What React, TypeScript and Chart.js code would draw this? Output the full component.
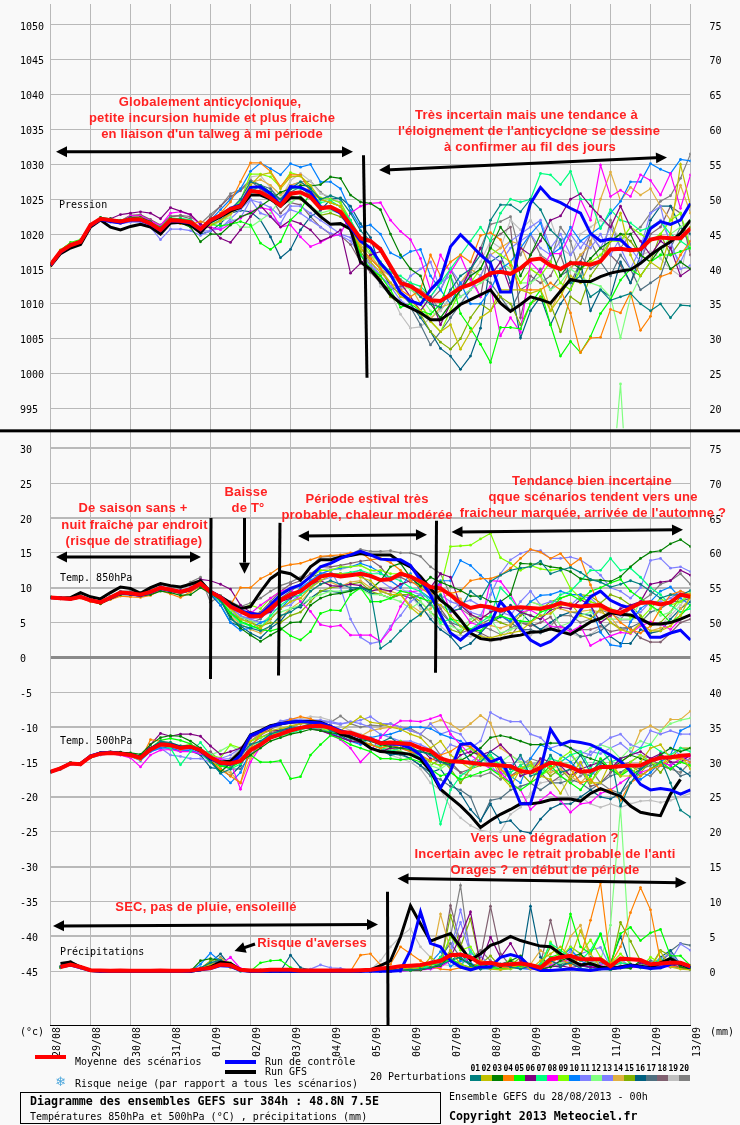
import React, { useEffect, useRef } from "react";
import { Chart, registerables } from "chart.js";

Chart.register(...registerables);

const dateLabels = ["28/08","29/08","30/08","31/08","01/09","02/09","03/09","04/09","05/09","06/09","07/09","08/09","09/09","10/09","11/09","12/09","13/09"];
const pressureTicks = [995,1000,1005,1010,1015,1020,1025,1030,1035,1040,1045,1050];
const pressureRightTicks = [20,25,30,35,40,45,50,55,60,65,70,75];
const tempTicks = [-45,-40,-35,-30,-25,-20,-15,-10,-5,0,5,10,15,20,25,30];
const tempRightTicks = [0,5,10,15,20,25,30,35,40,45,50,55,60,65,70,75];
const perturbationNames = ["01","02","03","04","05","06","07","08","09","10","11","12","13","14","15","16","17","18","19","20"];
const perturbationColors = ["#008080","#c0c000","#008000","#ff8000","#00ff00","#800080","#00ff80","#ff00ff","#80ff00","#0080ff","#8080ff","#80ff80","#8080ff","#e0b040","#80b000","#006080","#507080","#806070","#c0c0c0","#808080"];

const pressureMean = [1015.6,1017.5,1018.4,1018.9,1021.3,1022.2,1022,1021.8,1022.1,1022.1,1021.5,1020.6,1022,1021.9,1021.7,1020.7,1022,1022.7,1023.6,1024,1026.2,1026,1025.2,1024.1,1025.8,1026,1025.3,1023.7,1023.9,1023.2,1021.3,1019.4,1019,1017.8,1015.4,1013,1012.5,1011.6,1010.5,1010.4,1011.3,1012.3,1012.8,1013.5,1014.4,1014.6,1014.3,1015.1,1016.3,1016.5,1015.5,1015,1015.8,1015.8,1015.6,1016.1,1017.8,1017.9,1017.7,1017.8,1019.2,1019.5,1019.4,1019.4,1020.8];
const pressureControl = [1015.5,1017.4,1018.4,1018.9,1021.2,1022.1,1021.8,1021.6,1022,1022,1021.4,1020.5,1021.9,1021.8,1021.6,1020.6,1021.9,1022.7,1023.7,1024.2,1026.7,1026.8,1025.8,1024.2,1026.8,1026.7,1026,1023.9,1023.8,1023,1021,1019,1018,1015.8,1014.2,1011.6,1010.4,1009.9,1012,1013.5,1018.2,1019.9,1018.5,1017,1015.8,1011.7,1011.7,1019.4,1024.4,1026.7,1025.1,1024.5,1023.7,1023,1020.1,1019,1019.3,1019.2,1017.8,1017.8,1020.8,1021.8,1021.4,1022,1024.4];
const pressureGfs = [1015.4,1017.2,1018,1018.5,1021,1022,1021,1020.6,1021.1,1021.4,1021,1020,1021.6,1021.7,1021.3,1020.2,1021.8,1022.5,1023.3,1023.8,1025.6,1025.6,1025,1024,1025.2,1025.2,1023.9,1022.5,1021.4,1021.5,1020.7,1016,1014.9,1013.2,1011.3,1010.1,1009.4,1008.7,1007.7,1007.7,1008.7,1009.9,1010.6,1011.3,1012,1010.1,1008.9,1009.9,1011,1010.6,1010.1,1011.8,1013.5,1013.2,1013.2,1013.9,1014.4,1014.7,1014.9,1015.8,1017,1018,1018.9,1020.1,1022];
const pressurePerturbations = [
[1015.7,1017.5,1018.6,1019,1021.4,1022.3,1022.1,1021.9,1022.3,1022.2,1021.7,1020.9,1022.2,1022.1,1021.8,1020.5,1021.8,1022.4,1023.5,1025,1027.5,1027,1026,1025,1026.5,1027.5,1026.5,1025,1025.5,1025,1023,1020.5,1019,1018,1015,1013,1012.5,1011,1010,1009.5,1012,1014,1015,1017,1022,1024.2,1024.2,1023.2,1025,1023.5,1020.6,1019.2,1013,1014,1011,1012,1010.5,1011,1011.5,1010,1009,1010,1008,1009.8,1009.7],
[1015.5,1017.7,1018.7,1019.1,1021.2,1022.1,1021.9,1021.6,1022.2,1022.3,1021.5,1020.8,1021.8,1021.9,1021.6,1020.6,1021.3,1021.9,1023,1024.5,1027,1028.5,1028.8,1026.5,1028.2,1028.3,1027,1025,1024.5,1024,1021,1018,1016,1014.5,1013,1011,1010.5,1009,1007.5,1006,1007,1003.5,1006,1008,1009,1012,1012,1012,1011.5,1012,1009,1011,1014,1013,1016,1016,1019,1023,1017,1014,1016,1015,1020,1030,1024],
[1015.7,1017.4,1018.5,1019,1021.4,1022.4,1022.2,1021.9,1022.4,1022.4,1021.8,1020.6,1021.8,1021.6,1021,1018.9,1020,1020,1021.3,1022.5,1023,1024,1025,1026,1026.5,1027,1026.9,1027.1,1028.2,1028,1025.6,1024.6,1024.4,1023.5,1020,1017,1015,1014,1010,1008,1010,1012,1014,1015,1018,1021,1019,1014,1017,1020,1018,1014,1016,1015,1016.5,1018,1019,1020,1020,1017,1016,1018,1015,1016,1015],
[1015.4,1017.3,1018.3,1018.8,1021.1,1022,1021.8,1021.6,1022,1022,1021.4,1020.4,1021.6,1021.5,1021.4,1021.8,1021.5,1023,1024.6,1027.5,1030.2,1030.2,1029,1026.8,1028.5,1028.5,1026,1025,1024.5,1024,1021,1018,1016.5,1015,1013,1012,1011,1012,1017,1014,1016,1017,1016,1019.8,1020.2,1019.2,1015.5,1012,1012,1012,1013,1012,1008.7,1003,1005.1,1005.2,1009.2,1008.7,1011.6,1006.2,1008.2,1013.9,1014.4,1017,1019],
[1015.8,1017.7,1018.8,1019.2,1021.3,1022.3,1022.1,1021.8,1022.1,1022.2,1021.6,1021,1022.3,1022.2,1021.9,1020.8,1021.4,1021.2,1021.4,1021.8,1021.3,1018.7,1017.8,1018.9,1022,1023.4,1026,1025,1024.5,1024,1021.5,1017,1015,1014,1012,1009.5,1010,1009,1008.5,1010,1014,1008.6,1006.5,1004.2,1001.6,1006.6,1006.6,1006.4,1010,1012,1007,1002.5,1004.6,1003,1005.3,1008.6,1010.6,1013.4,1015,1014,1016,1017,1017,1017.5,1018],
[1015.6,1017.5,1018.5,1019,1021.3,1022.2,1022.2,1022.8,1023,1023.2,1023,1022.2,1023.8,1023.3,1022.8,1021.4,1020.9,1019.4,1018.8,1020.6,1022.5,1024.1,1022.5,1021,1022,1021.5,1020.6,1019,1019.6,1020.6,1014.4,1015.8,1017,1017.5,1015,1013,1011,1009,1011,1007,1010,1012,1015,1018,1014,1016,1012,1018,1017,1019,1022,1022.6,1025,1025.8,1024,1022.5,1021,1024,1021,1019,1017,1019,1018,1014,1015],
[1015.6,1017.5,1018.4,1019,1021.3,1022.2,1022,1022,1022.3,1022.1,1021.7,1020.9,1022.1,1022.3,1022,1020.5,1021.5,1022.4,1023.6,1024.5,1026,1027,1026,1024,1026.5,1026.5,1026,1024.5,1024.8,1023.9,1022,1019.5,1018,1016,1014.5,1014,1013,1012.5,1011,1013,1015,1017,1019,1021,1019,1023,1025,1024.6,1025,1028.7,1028.5,1027.1,1029,1025,1024.9,1020.8,1023.5,1022,1021.6,1020.5,1021,1021.8,1020,1019,1018],
[1015.6,1017.4,1018.4,1018.9,1021.3,1022.1,1021.9,1021.7,1022.6,1022.6,1021.9,1021.2,1023,1023.2,1022.8,1021.2,1021,1020.6,1021.5,1022.3,1023.2,1023.8,1023.5,1021,1021.3,1019.6,1018.2,1018.8,1019.6,1020,1023,1024,1024.4,1024.5,1022,1020.4,1019.2,1016.5,1012,1017,1014.5,1016.8,1013.5,1011,1012.5,1005.4,1008,1005.9,1016,1014.5,1017.2,1017.2,1020,1025,1022,1029.9,1025.4,1026.3,1025.4,1028.5,1027.7,1025.6,1028.7,1023.7,1028.5],
[1015.8,1017.6,1018.6,1019.1,1021.3,1022.3,1022,1021.9,1022.4,1022.5,1021.8,1021,1021.9,1022,1021.8,1020.9,1021.6,1022.6,1023.5,1024.8,1028.6,1028.6,1028.2,1026.7,1028.8,1028.4,1026.6,1025.2,1025,1024.5,1022,1019,1017.5,1015.5,1014,1011.5,1010.5,1010,1007.5,1006,1009,1012,1013,1015,1018,1017,1016,1013,1015,1014,1016,1013,1012,1015,1016,1017,1019,1019,1021,1020,1019,1020,1022,1023,1018],
[1015.5,1017.6,1018.5,1019,1021.2,1022.1,1021.8,1021.6,1022,1022,1021.3,1020.2,1021.7,1021.6,1021.3,1020.1,1022,1023.5,1025,1026.5,1029,1030.2,1029.4,1028.5,1030.1,1029.6,1030,1027.5,1027.5,1026.5,1023.4,1021,1021.3,1020,1017.3,1016.6,1017.5,1017.8,1014,1012,1010,1013,1010,1010,1012,1015,1016,1018,1020,1021.6,1017,1018,1021,1019,1020,1021,1023,1024.7,1027.5,1027.5,1030.1,1029.3,1028.7,1030.7,1030.5],
[1015.7,1017.4,1018.4,1018.9,1021.1,1022,1021.7,1021.5,1021.7,1021.7,1021,1019.2,1020.7,1020.7,1020.5,1019.8,1020.5,1021,1021.8,1022.3,1024.9,1024.5,1023.8,1022.5,1023.5,1023,1022,1021,1020.1,1019.8,1019,1017,1016,1014,1012.5,1012,1014,1015,1016,1012,1015,1013,1014,1015,1018,1017,1019,1020,1021,1022,1018,1020,1017,1019,1018,1020,1017,1019.5,1018,1016,1021,1022,1019,1015,1015.5],
[1015.6,1017.7,1018.7,1019.1,1021.4,1022.3,1022.1,1021.9,1022.3,1022.4,1021.7,1021,1022.3,1022.2,1021.9,1020.9,1021.2,1021.9,1022.4,1021,1021,1022,1023,1025,1024.5,1025.5,1024,1023,1023.4,1023,1021,1019,1017,1016,1014,1013,1012,1011,1009,1008,1010,1011,1012,1013,1014,1016,1015,1013,1013,1014,1012,1013,1015,1014,1013,1012.5,1011,1005.1,1011,1014,1016,1017,1020,1021,1022],
[1015.5,1017.4,1018.4,1019,1021.2,1022,1021.9,1021.6,1022,1022,1021.4,1020.6,1021.5,1021.5,1021.4,1020.4,1020.5,1020.8,1022.2,1023.5,1025,1023,1022.5,1021.5,1024,1024,1023,1022,1021,1020,1019.5,1017,1015.5,1014,1012.5,1010.5,1009.5,1009,1011,1013,1014,1011,1012,1014,1017,1016,1018,1019,1020,1018,1017,1019,1020,1018,1020,1018,1021,1018,1015,1018,1023,1024,1018,1016,1019],
[1015.7,1017.6,1018.6,1019.1,1021.3,1022.2,1022,1021.7,1022.4,1022.3,1021.8,1020.8,1021.6,1021.7,1021.5,1020.5,1021.2,1021.8,1022.8,1024.3,1027.4,1027.8,1027,1025.6,1027,1027.4,1026.5,1024,1023.5,1023,1021,1018.5,1017,1015,1014,1012,1012.5,1010,1007.8,1009.5,1010,1013,1015,1014,1017,1018,1019,1018.5,1015,1014,1009,1012,1015,1017,1018.5,1025,1028.9,1024.8,1026.7,1025.6,1026.5,1024,1022,1027,1023],
[1015.8,1017.7,1018.7,1019,1021.3,1022.2,1022,1021.8,1022.2,1022.2,1021.5,1020.7,1022.2,1022.1,1021.8,1020.7,1021.7,1022.6,1023.4,1024.4,1026.5,1027,1026,1024,1025.5,1025,1024,1022.7,1023,1022.5,1021.2,1017.5,1015.5,1013.5,1011,1010,1009.5,1008.5,1006,1004.5,1003.5,1005,1008,1010,1009,1011,1010,1007,1010,1011,1010,1006,1011,1010,1014,1016,1019,1020,1019,1017,1016,1020,1017,1019,1021],
[1015.6,1017.4,1018.5,1018.9,1021.2,1022.1,1021.9,1021.8,1022.2,1022.3,1021.6,1020.5,1021.9,1021.8,1021.6,1020,1020.4,1021.5,1023,1023.4,1023.2,1022,1019.6,1016.6,1017.8,1020.6,1022.5,1023.4,1025,1025.2,1024,1021.5,1019.5,1015,1012.5,1011.5,1010,1008,1006,1003.6,1002.5,1000.6,1002.5,1006.5,1016,1017,1013,1005.1,1009,1011,1007,1010,1012,1016,1009,1012,1011,1016,1013,1017,1022,1024,1024,1021,1020],
[1015.5,1017.6,1018.4,1018.9,1021.2,1022.2,1021.9,1021.6,1022,1021.9,1021.3,1020.4,1021.8,1021.9,1021.5,1020.8,1021.3,1022,1023.2,1024,1026,1027,1026.5,1024.8,1026,1026.8,1025.5,1024,1023.7,1023,1020.5,1017,1015,1013,1011,1010,1009.5,1007,1004.1,1006,1008,1010,1012,1014,1013,1011,1009,1012,1013,1015,1012,1014,1015,1017,1015,1016,1014,1017,1015,1012,1013,1014,1018,1021,1018.5],
[1015.6,1017.5,1018.5,1019.1,1021.3,1022.2,1022.1,1021.9,1022.7,1022.8,1022.1,1021.3,1022.5,1022.6,1022.2,1020.8,1022.4,1024,1025.4,1026.2,1027.6,1026.5,1025.4,1023,1024.5,1024.2,1022.5,1021,1020,1019.8,1018.5,1016,1014.5,1013,1012,1012.5,1013,1011.5,1010.5,1012,1015,1012,1014,1011,1019,1020,1021,1008,1014,1013,1014,1017,1013,1016,1020,1018,1017,1015.5,1013,1016,1020,1021,1024,1023,1017],
[1015.7,1017.6,1018.6,1019,1021.2,1022.1,1021.9,1021.7,1022.2,1022.1,1021.5,1020.7,1022.1,1022,1021.7,1020.6,1021.6,1022.2,1023.8,1024.6,1028.2,1028.4,1026.6,1025,1027.7,1028.7,1027.6,1025.8,1025.4,1024.4,1022,1018.5,1016,1012.5,1011.5,1008.5,1006.5,1006.7,1008,1009,1011,1012.5,1014,1016,1019,1018,1022,1020.6,1022,1020,1022,1018,1017,1020,1021,1022,1021,1019.5,1019,1017,1017.5,1016.5,1015,1014,1021],
[1015.6,1017.5,1018.5,1019,1021.3,1022.3,1022,1021.8,1022.6,1022.7,1022,1021,1022.6,1022.7,1022.5,1021.5,1022.8,1024,1025.8,1026.4,1027.8,1027,1026,1024.8,1027,1027.5,1027.6,1026,1025,1024.6,1021.5,1018,1016.5,1015,1014,1013.5,1012.5,1012,1011,1009,1011,1013,1014.5,1018,1021.4,1021.8,1022.5,1017,1020,1017,1016,1021,1019,1014,1019,1016,1022,1018,1020,1021,1023,1024.7,1025.5,1028,1031.5]
];

const t850Mean = [8.6,8.5,8.4,8.7,8.2,7.9,8.6,9.3,9.2,9,9.4,10,9.7,9.4,9.8,10.6,9.4,8.6,7.3,6.6,5.9,5.9,7,8.2,9,9.5,10.6,11.6,11.9,11.6,11.8,12,11.7,11.1,11.2,12,11.6,10.9,10.1,9.9,8.95,7.8,7.1,7.4,7.2,6.7,7.1,7.2,7.1,7,7.3,7.8,7.5,7.3,7.4,7.5,6.7,6.4,7.1,7.8,7.9,7.6,7.9,9,8.7];
const t850Control = [8.6,8.5,8.4,8.7,8.2,7.9,8.5,9.2,9.1,8.9,9.3,9.9,9.6,9.4,9.7,10.5,9.5,8.7,7.4,6.7,6.3,6.1,7.5,9,9.9,10.4,11.6,13,13.5,14.2,14.7,15.2,14.7,14.1,14,14,13.2,11.1,8.95,6.1,3.5,2.5,3.7,4.4,4.9,8,6.3,4.2,2.5,1.7,2.3,3.5,4.7,6.8,8.7,9.5,8.2,7.5,7.1,5.1,2.9,2.9,3.5,3.9,2.5];
const t850Gfs = [8.6,8.5,8.6,9.3,8.7,8.4,9.3,10.1,9.9,9.2,10,10.6,10.3,10.1,10.5,11,9.4,8.7,7.8,7,7.3,9.4,11.3,12.3,12,11.1,13,14,14,14.4,14.6,14.9,14.7,14.7,14.7,13.7,13,11.6,9.9,8.2,7.1,5.4,3.5,2.7,2.5,2.7,3,3.2,3.6,3.7,4.1,3.7,3.3,4.2,5.1,5.6,6.4,6.2,6.1,5.5,4.8,4.8,5,5.5,6.1];
const t850Perturbations = [
[8.7,8.6,8.5,8.8,8.3,8,8.7,9.4,9.3,9.1,9.5,10.1,9.8,9.5,9.9,10.5,9.6,8.2,5.5,4.6,4.2,3.8,4.5,6,6.5,7.5,9.5,10.5,11,10.5,10,10,9.5,1.3,2.3,3.8,5.2,6.2,7.8,8.9,6.6,7,9.5,8.4,10.9,11.8,12.5,12.8,13,13.8,12,12.5,12.9,12.2,11.2,10.8,10.1,10.5,11,10.5,9.5,8.5,9,8.9,9.6],
[8.6,8.5,8.4,8.7,8.2,7.9,8.6,9.3,9.2,9,9.3,9.9,9.6,9.3,9.7,10.5,9.3,8.5,7,5.5,5,4.2,5.5,7,8,8.5,10,11,11.8,12,12,11.5,11,9.5,9,9,7.2,6,8,7.5,6,4.5,3.5,3,2.8,3.2,3.5,3.8,5,6,6.3,7.5,7.8,6,5.5,7,5,4,3.5,4.8,3.8,3.8,4.5,6,8.8],
[8.6,8.5,8.5,8.7,8.1,7.7,8.4,9,9,8.8,9,9.5,9.3,8.9,9,10,9.2,8.2,5.8,4.2,3.2,2.3,3.2,4,5,5.1,7.5,8.5,9,9.2,9.5,10,9.7,11,13,13.5,11.5,10.2,11.5,10.8,10.2,9.6,8.8,8.8,8,8,9,13.5,13.4,13.4,13,12.8,12.3,11.3,11.1,11.1,10.9,11.6,13,14.2,15.1,15.3,16.3,16.9,15.9],
[8.6,8.4,8.3,8.5,8,7.7,8.3,8.8,8.7,8.6,8.9,9.6,9.1,8.6,9.4,10.2,9.2,8.4,7.5,10,10,11.3,12,13,13.3,13.5,14,14.5,14.6,14.7,15,15.1,14,14.2,13.6,12.5,11,10,9,9.5,9.2,9.5,11,11.3,11.3,11.8,12.8,14.2,15.5,15.1,14.2,14.9,13.2,14.2,10.4,7,6.5,5,4,3.5,4.5,7,9,9.5,9],
[8.7,8.5,8.5,8.8,8.2,8,8.6,9.3,9.1,9,9.4,9.9,9.7,9.3,9.7,10.4,9.6,8.2,6.4,5.2,4.6,4,3.8,4.2,3.1,2.5,3.7,6.3,6.8,6.7,9,10,8,8,8.5,9.5,9.2,8.5,8,9,5.5,5.2,4,3.8,5.2,6,5.5,5.2,5.1,6.5,7,8.5,9,8.2,9.5,10,10.7,11.2,9.5,8.5,7.5,6.5,5,6,7.5],
[8.6,8.5,8.4,8.7,8.3,8,8.6,9.4,9.3,9,9.5,10.2,9.8,9.6,9.9,11.2,11,10.5,9.8,7.5,6.5,6.2,6.5,8,8.5,9.5,10.5,11,10.3,10.2,10.5,10.3,9.5,9.8,9.5,10.5,11,11.5,10,12,11.5,7.5,6.2,5.5,6.5,7,7.3,6.5,6,5.5,6.8,7.2,7,8.3,7.5,5,6,7,7.5,8,10.5,10.8,11,12.5,11.8],
[8.6,8.5,8.4,8.7,8.2,7.9,8.6,9.3,9.2,9,9.4,10,9.7,9.4,9.7,10.3,9.3,8,6.3,5,4.5,4.2,6,7.5,8.5,9,10,11.5,12,12,12.2,12.5,12,12,11.5,11,10,9.5,8,5,5.5,4.5,4,5,6,10,8.5,6.5,6,5.5,7.5,9,9.5,11,12.5,12.5,14.2,12.5,12.8,11.5,10,9,7.5,6.5,7],
[8.6,8.6,8.5,8.7,8.2,8,8.6,9.3,9.3,9,9.5,10.1,9.8,9.5,10,10.7,9.5,8.2,7.2,6.5,6.3,7.5,8.5,9.5,9.9,8,6.6,4.7,4.4,4.6,3.2,3.2,3.2,2.3,4,7.3,9.4,9.6,9.9,10.5,6.5,7,5,4.5,11,10.9,9,6.5,6.8,6,4.4,4.4,3.7,4.5,1.7,2.5,3.1,3.6,3.4,4.5,5.1,4.8,4,5.5,6],
[8.6,8.5,8.4,8.7,8.2,7.9,8.6,9.3,9.2,9.1,9.3,10,9.6,9.5,9.7,10.2,9.6,8.8,7.5,7,7.5,7,8.5,9.5,9.8,10.5,11.5,12.5,12.5,13,13,13.2,12.5,12.5,12,12,11.8,10.5,9,10,15.9,16,16.1,17,17.8,14.3,13.5,12.5,13.2,12.7,12.5,12.7,9.9,8.5,8,7.5,7,6.5,5.8,5.5,7,8.5,7.5,8,9],
[8.5,8.4,8.3,8.6,8.1,7.8,8.5,9.2,9.1,8.9,9.3,9.9,9.6,9.2,9.6,10.4,9.3,7.5,5,3.9,4.2,5,5.5,7,8.5,10,11,12,12.5,12.8,13,13.5,13,12.2,11,10,12,9.5,8.5,11,11,13.9,13.2,11.8,10.4,6,5.2,6.5,8,8.9,9,9.5,9,9,7.5,3.6,1.8,1.6,5.1,7,8,9.5,10.1,8.5,7.5],
[8.6,8.5,8.5,8.7,8.2,8,8.7,9.4,9.3,9,9.4,10.1,9.8,9.5,9.8,10.3,9.5,8.6,7.2,6,5.5,5,5.5,7,8,9,11,12,12.5,10,5.5,2.9,2,2.3,4.5,6,8,9,8.5,9,8,7.5,6.5,6,9,12,14,14.9,15.4,15.3,14.2,14.2,14.4,14,13,11.8,10,9.5,8.5,10,13.9,14.2,12.8,13,12.3],
[8.6,8.5,8.4,8.7,8.2,8,8.6,9.3,9.2,9,9.3,10,9.7,9.3,9.7,10.4,9.4,8,6.8,5.8,5.3,4.8,6,6.5,7,7.5,8.5,9,9.5,9.5,9.5,9.8,9,9,8.5,8,7,8,6.5,4.8,4.5,3.9,5.5,6,5.5,3.5,4,4.5,8,7.5,7,4.5,5,6,6.5,5.5,5.5,5.5,5.5,8,7.5,6,6.5,8,9.5],
[8.6,8.5,8.4,8.7,8.2,7.9,8.5,9.2,9.1,9,9.4,9.9,9.7,9.4,9.8,10.5,9.2,8.4,6.5,5.7,5.5,5.8,6.5,7.2,7.5,9,10,11,11.5,11.8,12,12.5,11.5,11,10,9.5,9.5,9,8.5,7.5,6.7,7.8,8.2,7.4,6.8,6.5,6,8,9.5,7.5,8,8,7.5,8.8,8.5,7.2,6.5,6,6,6.5,8,8,8.5,9.5,9],
[8.6,8.5,8.4,8.7,8.2,8,8.6,9.3,9.2,9,9.4,10,9.6,9.3,9.7,10.4,9.3,8.2,6,4.8,4,3.5,4.5,5.8,7,8,9.5,10.5,10.8,10.2,10.8,11,10,9.5,9.5,9,7.5,6.5,7,8.4,9.2,8.4,6.2,5.1,4.6,4.2,4.7,6.5,8,7.5,7.2,7,6.5,6.6,6.8,6.5,5.8,4,3.6,5,3.8,4.2,4.5,7,8.5],
[8.6,8.4,8.4,8.7,8.1,7.9,8.5,9.1,9,8.9,9.2,9.8,9.5,9.2,9.5,10.2,9.4,8.4,6.5,5.5,5,4.5,5,5,6,6.5,8,9.5,10,10.2,10.5,10.8,9.5,9,8.5,9,9,8,6.5,5.5,4,3.5,5,6,5.8,5,4.5,6,7,6.8,8,8.5,9,9,8.8,7.8,9,8.5,7.5,6,4.5,5,6.5,8.8,9.2],
[8.6,8.5,8.5,8.8,8.2,7.9,8.6,9.3,9.2,9,9.4,10,9.6,9.3,9.7,10.4,9,7.5,5,4.5,3.5,2.8,4.2,5.2,7,7.2,8.5,9.5,9.5,9.3,9.7,10,9.2,9,8.5,9,9,7.5,5.5,4,3,1.3,2,3.5,5,5.8,7.5,6.5,5,4,5,6,6.5,6.3,6,5,3,2,2,4,3.5,3.8,5.5,7,8],
[8.6,8.5,8.4,8.7,8.2,7.9,8.6,9.3,9.2,9,9.3,9.9,9.5,9.4,9.9,10.5,9.5,8.5,7,6,5,5.5,7,8.5,9.5,10.5,11.5,12,12,12,12,11.8,10.5,9.5,9,9,8.5,9,7.5,6.5,5,4.5,4,4.8,5.5,6,5,4,4,3.5,4,4.5,4,3,3.2,3.8,5,4.2,4.3,5,6.5,7,8,8,8.5],
[8.6,8.5,8.4,8.7,8.3,8,8.6,9.3,9.2,9.1,9.5,10.2,9.9,9.5,10,10.9,9.5,8.3,6.5,5.5,5.8,6.5,8,9.5,10.5,11,12,13,13,13.2,13.5,13.8,14,13,11.2,11.5,10.8,10.5,9.5,7,5,3.5,4,3.5,2.8,2.6,3,5,4.5,5,5.8,3.7,3.4,4,4,4.5,3.7,4,4.2,2.8,2.2,2.2,3.5,5,5.5],
[8.6,8.5,8.4,8.7,8.2,8,8.7,9.4,9.3,9,9.3,10,9.7,9.4,9.7,10.1,9,8,6.8,6.5,6.2,6.5,7.8,9,10,10.5,11.5,12.5,12.8,12.6,13,13.2,12.5,12,11,10,9,7,6,4.5,3.2,3.2,3,3.3,2.3,2.5,4,4.5,3.2,4,4.6,4.1,3.5,2.9,3.3,4.3,4.9,5.3,5.4,5.8,4.8,4.6,6,7.5,9.3],
[8.7,8.6,8.5,8.9,8.3,8,8.8,9.5,9.5,9.2,9.7,10.5,10.1,9.9,10.8,11.5,7.9,8.9,8,7.3,7.8,8.5,9.5,10.3,10.8,11.5,13,14.4,14.5,14.3,14.8,15.5,15.2,15.2,15.3,15,15,14.5,13,12,9,7,6,4.5,4,3.3,4.2,5,4.8,4,4.5,6,6,5,5.5,6.8,6.3,5.5,7,8,9,10.5,11,12,10.5]
];

const t500Mean = [-16.4,-15.9,-15.2,-15.3,-14.2,-13.8,-13.7,-13.8,-14,-14.4,-13.2,-12.5,-12.6,-13,-12.8,-13.3,-14.3,-15.1,-15.2,-14.85,-13.3,-12.5,-11.5,-11,-10.5,-10.1,-9.85,-9.8,-10.1,-10.7,-10.8,-11.3,-11.7,-12.3,-12.2,-12.3,-12.4,-13,-13.4,-14.5,-14.9,-14.95,-15.1,-15.3,-15.4,-15.5,-15.6,-16.3,-16.5,-15.8,-15.1,-15.3,-15.7,-16.4,-16.3,-15.7,-15.7,-15.6,-15.5,-15.5,-14.8,-14.4,-14.3,-14.1,-14];
const t500Control = [-16.4,-15.9,-15.2,-15.3,-14.1,-13.7,-13.6,-13.8,-14,-14.4,-13.1,-12.4,-12.5,-12.9,-12.8,-13.4,-14.5,-15.2,-15.3,-14,-11.2,-10.6,-9.9,-9.5,-9.3,-9.2,-9.3,-9.4,-9.9,-10.5,-10.9,-11.4,-11.7,-12.2,-12.4,-12.5,-13,-14,-16,-18.7,-16.3,-12.5,-12.3,-13.5,-15,-14.4,-17.5,-21,-21,-16,-10.3,-12.5,-12,-12.2,-12.5,-13.2,-14,-14.9,-16.3,-18.2,-19,-18.8,-19,-19.6,-19];
const t500Gfs: (number | null)[] = [-16.4,-15.9,-15.2,-15.2,-14.2,-13.7,-13.6,-13.7,-13.9,-14.3,-13.1,-12.4,-12.5,-12.9,-12.8,-13.4,-14.5,-15,-14.9,-13.5,-11.1,-10.5,-9.8,-9.5,-9.3,-9.2,-9.2,-9.3,-9.9,-11,-11.4,-12,-13,-13.5,-13.6,-13.7,-13.9,-14.6,-16.3,-18.9,-20.1,-21.3,-22.7,-24.4,-23.4,-22.5,-21.8,-21,-21,-20.8,-20.4,-20.3,-20.3,-20.6,-19.5,-18.8,-19.4,-19.9,-21.3,-22.2,-22.5,-22.7,-19.6,-17.5,null];
const t500Perturbations = [
[-16.4,-15.9,-15.1,-15.3,-14.2,-13.7,-13.7,-13.7,-14,-14.5,-13,-12,-12.2,-12.7,-12.7,-13.3,-14.9,-16.6,-16,-14,-12.5,-12,-11,-10.5,-10,-10,-9.5,-9.5,-10.5,-11,-11,-11.5,-12,-12.2,-11.5,-12.5,-13,-13.5,-14,-15,-15.5,-13,-15,-15,-13.5,-14.5,-16,-14,-17,-16.5,-14,-16.5,-16,-14,-16.5,-15,-14,-21.3,-18,-16,-15,-14.5,-18,-21.9,-22.9],
[-16.4,-15.9,-15.2,-15.3,-14.2,-13.8,-13.6,-13.8,-14,-14.4,-13,-12.2,-12.4,-12.9,-12.7,-13.4,-14.3,-15,-14.8,-13.8,-12,-11,-10.5,-10.2,-9.8,-9.5,-9.5,-9.3,-10,-10.5,-9.5,-8.5,-9.3,-9.5,-10,-10.3,-11,-11.5,-13,-12,-14,-15,-16,-13.5,-14.5,-17,-18.5,-16,-15,-17,-17.5,-19.5,-17,-15,-18,-18,-15,-17,-17,-15,-13,-12.5,-14.5,-14,-16],
[-16.4,-16,-15.2,-15.3,-14.3,-13.8,-13.6,-13.6,-13.7,-13.9,-12.5,-11.5,-11.2,-11.3,-12,-13,-14.8,-16.4,-15.2,-15,-14,-13,-12,-11.5,-11,-10.7,-10.3,-10.5,-10.8,-11,-11.5,-11.8,-12,-12.5,-12.8,-13,-13.2,-13.5,-13.8,-15,-15.2,-14.8,-14,-13,-11.5,-11.2,-11.5,-12,-12.5,-12.5,-12.3,-12.3,-13,-14,-14.5,-15,-16,-15,-14,-14.5,-15,-14,-13,-13.5,-13],
[-16.4,-15.9,-15.2,-15.4,-14.4,-13.9,-13.7,-13.9,-14.2,-14.7,-11.8,-12,-12.5,-13.2,-12.9,-13.6,-14.7,-16,-17,-18,-13,-11,-10,-9.5,-8.9,-8.5,-8.8,-9.4,-10,-10.8,-11.5,-12,-12.5,-13,-12.5,-13,-13.5,-14,-14.8,-14,-13.5,-12.5,-12.8,-14,-15,-16,-17,-16.5,-16.5,-15,-16,-15,-16,-18,-17.5,-19,-19,-20.5,-18,-17,-16,-15.5,-14.5,-14.5,-15],
[-16.4,-15.8,-15.1,-15.3,-14.2,-13.7,-13.7,-13.7,-13.9,-14.5,-13,-11.9,-11.6,-11.9,-12.4,-13.5,-15,-15.6,-15.8,-15,-14,-15,-15,-14.8,-17.4,-17.1,-14,-12.5,-11.2,-11.7,-12.5,-13,-13.5,-14.5,-14.5,-14.7,-14.5,-15,-16,-17,-16.5,-17.5,-17,-16.5,-16,-17,-18,-19,-18,-17,-15.5,-17,-18,-19,-17,-14.5,-16,-17,-16,-17,-16,-15,-16,-15,-15.5],
[-16.4,-15.9,-15.2,-15.3,-14.2,-13.8,-13.7,-13.7,-13.9,-14.3,-12.5,-10.9,-11.3,-11,-11,-11.3,-12.7,-13.9,-13.5,-13,-11.5,-10.8,-10.5,-10.5,-10.2,-10,-10.2,-10.5,-11,-11.5,-12,-12.2,-13,-13.5,-13,-13,-12.5,-13,-14.5,-15,-15.5,-14,-13.5,-14,-13.5,-12.5,-14,-17,-16.5,-14.5,-15,-15.5,-17,-16,-15.5,-15,-16,-14.5,-14,-13.5,-14.5,-13.8,-15,-15,-14],
[-16.3,-15.9,-15.1,-15.2,-14.1,-13.7,-13.7,-13.7,-13.9,-14.3,-13,-12.5,-13,-15.4,-13.5,-12.2,-14,-15.2,-16,-15.3,-13,-12.3,-11.5,-11.2,-10.9,-10.4,-10,-10.5,-10.8,-11,-11.5,-12,-12.5,-12.8,-13.5,-13,-13.2,-14.5,-16.5,-23.9,-19,-17,-16,-15,-14,-15.5,-16.5,-15.5,-16.5,-17,-14.5,-15,-14,-13.5,-16,-13,-15,-14.5,-14,-13,-12.5,-13.5,-14,-13,-13.5],
[-16.4,-15.9,-15.2,-15.3,-14.3,-13.9,-13.8,-14,-14.4,-15.7,-14,-13.3,-13.2,-13.5,-13.5,-13.8,-14.3,-14.5,-15,-18.9,-15,-12.8,-11.5,-11,-10.5,-10.2,-10,-10.4,-11,-11.8,-13,-15,-13.5,-11.5,-10,-9.1,-9.1,-9.2,-8.8,-8.3,-11,-12.5,-14,-15,-16,-16.5,-18,-19,-21.8,-20.5,-19.4,-20.5,-22.2,-21,-20.8,-19.5,-19,-18,-17,-16.5,-16,-15,-15.5,-14.5,-14.2],
[-16.4,-15.9,-15.2,-15.3,-14.2,-13.7,-13.6,-13.7,-13.9,-14.3,-13,-12.2,-12.2,-12.7,-12.5,-13.2,-14,-14.4,-12.5,-13,-12,-11.5,-11,-10.8,-10.4,-10.2,-10,-10.3,-10.5,-11,-11.5,-12,-12.5,-13,-12.5,-12,-12.5,-14,-15,-15.5,-15,-13.5,-13,-14.5,-14,-16,-17.5,-16,-15.5,-17,-16,-14.5,-13.5,-16,-18,-16,-15.5,-17,-15,-14,-15,-15.5,-14,-15,-15.5],
[-16.4,-15.9,-15.2,-15.4,-14.4,-13.9,-13.8,-13.9,-14.2,-14.8,-13.5,-13,-13,-13.5,-13.3,-13.8,-15,-16.6,-18,-16.5,-13.5,-12.2,-11,-10.7,-10.4,-10.2,-10,-10.2,-10.8,-11.5,-12,-12.5,-11.5,-11.2,-11,-10.5,-10,-10,-10.2,-11,-11.5,-12,-13,-14,-15,-15.5,-17,-18,-14.5,-12.5,-13.2,-14,-15,-16.5,-17,-15.5,-16,-14.5,-16.5,-17.5,-16.5,-15,-14,-10.5,-9.8],
[-16.4,-16,-15.3,-15.4,-14.3,-13.9,-13.8,-13.9,-14.1,-14.5,-13.5,-13,-14,-14.2,-14.5,-14.5,-15,-14.5,-14,-13,-11.5,-10.8,-10,-9.2,-8.8,-9,-9,-9,-9.2,-9.5,-9.3,-9,-8.5,-9.5,-9.5,-10,-10.5,-11,-9.5,-11,-10.5,-11,-13,-12,-7.9,-8.7,-9.2,-9.2,-11,-11.5,-13,-12.5,-13,-13.5,-14,-12.5,-11.5,-11,-12.5,-13,-10.5,-11,-10.5,-11,-11],
[-16.4,-15.9,-15.2,-15.3,-14.2,-13.8,-13.7,-13.8,-14,-14.4,-13.2,-12.7,-12.8,-13,-12.9,-13.4,-14,-13.4,-12.6,-13.5,-12.8,-12,-11.5,-11.3,-10.8,-10.2,-10,-10,-10.5,-11,-11.5,-12,-12.5,-13,-13.2,-13.5,-13.8,-14.5,-15.5,-16,-15,-14.5,-15.5,-14,-16,-15,-14,-15,-16,-14.5,-16,-15.5,-15,-14,-13,-12.5,-13,-14.5,-13,-12,-12.5,-10.5,-9.5,-9,-8.7],
[-16.5,-16,-15.3,-15.4,-14.4,-14,-13.8,-14,-14.2,-14.6,-13.4,-12.8,-12.8,-13.3,-13.2,-13.7,-14.2,-14.6,-14.5,-14,-12,-10.8,-9.9,-9.1,-9,-9.1,-9,-9.2,-9.4,-9.6,-9.2,-9.5,-10,-11,-11.5,-12,-12,-12.5,-13.2,-14,-12.5,-13,-15,-14,-15.5,-17,-15.5,-14.5,-15.5,-14.8,-16,-15,-14,-15.5,-13.5,-13.8,-13,-12.3,-13.5,-14,-15,-13.8,-13,-14,-15],
[-16.4,-15.9,-15.2,-15.3,-14.2,-13.8,-13.7,-13.8,-14,-14.4,-13,-12.6,-12.7,-13,-12.9,-13.5,-15,-16.2,-16.5,-18,-14.5,-12.5,-11,-10.3,-10,-9.5,-9.4,-9.8,-10.2,-10.8,-11,-11.3,-10.5,-10.2,-10,-10,-10.5,-11,-9.5,-9,-9.5,-10.5,-9.5,-8.3,-9.4,-13,-14,-15,-15,-16,-16.5,-16,-17,-18,-16.5,-15,-14,-15,-14,-10.5,-9.8,-10.6,-8.9,-8.9,-7.7],
[-16.4,-15.9,-15.2,-15.3,-14.2,-13.8,-13.7,-13.8,-14,-14.4,-13.2,-12.5,-12.5,-13,-12.9,-13.3,-14.6,-15.5,-15.5,-15,-13.5,-12.5,-11.5,-11,-10.5,-10,-9.8,-10,-10.3,-11,-11.5,-12,-12.5,-13,-13,-13.5,-14,-14.5,-15.5,-14.5,-16,-18,-16,-15.5,-15,-14.5,-16,-16.5,-18,-15.5,-17,-16,-17.5,-16,-18,-15.5,-16,-17,-15.5,-16.5,-15,-16.5,-14.5,-13,-13],
[-16.4,-15.9,-15.2,-15.3,-14.3,-13.9,-13.7,-13.9,-14.2,-14.6,-13.3,-12.8,-13,-13.4,-13.4,-14,-15.8,-16,-17,-15.5,-13,-12.2,-11.5,-11,-10.7,-10.2,-10,-10.2,-10.8,-11.2,-12,-12.2,-13,-13.3,-14,-13.8,-14.5,-15.5,-16.5,-16,-18,-19.5,-21.8,-23.4,-21,-23.7,-23.4,-24.9,-25.2,-23.2,-21.7,-21,-21,-20,-19,-20,-20.3,-19.5,-17,-16,-15,-14,-15,-16,-17],
[-16.4,-16,-15.3,-15.3,-14.3,-13.9,-13.8,-13.9,-14.1,-14.5,-13.3,-12.7,-12.7,-13.1,-13,-13.5,-14.5,-15.5,-16,-16,-14,-12.5,-11.3,-10.5,-10.3,-10,-9.8,-10,-10.4,-11,-11.7,-12.2,-12.5,-13,-13.8,-14,-14.5,-15.5,-17,-17.5,-18.5,-19,-20,-23.5,-20.5,-20.2,-19,-18.5,-18,-19,-18,-18,-17.5,-18,-19,-18,-17,-16.5,-15.5,-16,-15.5,-15,-15.5,-17,-16.5],
[-16.4,-15.9,-15.1,-15.3,-14.2,-13.7,-13.7,-13.7,-13.9,-14.4,-13.1,-12.5,-12.7,-13,-12.8,-13.6,-13.5,-15,-15.5,-15,-12.5,-11.5,-10.8,-10.4,-10,-9.5,-9.4,-9.4,-9.7,-10.5,-11,-11.5,-12,-12.5,-12.5,-13,-13.5,-14.5,-15,-15.5,-15,-16.5,-16,-14.5,-14,-16.5,-17,-16,-15.5,-16.5,-18,-17,-16,-16,-18.5,-18,-16.5,-15.5,-15,-14,-14.5,-15.5,-16,-15,-14.5],
[-16.4,-15.9,-15.2,-15.3,-14.2,-13.8,-13.6,-13.7,-13.9,-14.3,-13.2,-12.6,-12.6,-13.1,-12.9,-13.6,-15,-15.5,-14.5,-13,-11,-10.5,-9.8,-9.3,-8.8,-8.8,-8.5,-8.6,-9,-9.8,-10.5,-11,-11.5,-13,-14,-14.5,-15,-16,-18,-19,-21.5,-23,-24.1,-24.8,-25,-25,-22.5,-21.5,-19.5,-18,-17.7,-17.5,-20.5,-20,-21,-21.5,-21,-21.5,-21,-20.6,-20.5,-20.8,-20.5,-20,-19.5],
[-16.4,-15.9,-15.2,-15.3,-14.2,-13.7,-13.6,-13.7,-13.9,-14.4,-13,-12.3,-12.3,-12.8,-12.5,-13,-14.1,-15,-15,-14.5,-12,-11.2,-10.3,-9.7,-9.3,-9,-9,-9.1,-9.3,-8.4,-9.5,-10,-9.7,-9.8,-9.5,-10,-10.2,-11,-12,-14,-15.5,-16.5,-17,-17,-16.5,-17.5,-16.5,-15.5,-14.5,-15,-16,-17,-18,-17,-16,-18,-19,-19.5,-18,-16.5,-17,-15.5,-16,-16.5,-15]
];

const precipMean: (number | null)[] = [null,0.6,0.95,0.6,0.14,0.1,0.05,0.1,0.05,0.05,0.05,0.1,0.05,0.05,0.1,0.3,0.45,0.95,0.85,0.2,0.1,0.1,0.2,0.2,0.2,0.1,0.1,0.1,0.1,0.1,0.1,0.15,0.2,0.4,0.5,0.7,0.8,0.9,1.2,1.5,2.3,2.4,2,1.1,1.2,0.9,1,1.1,0.9,0.5,1.7,2,2.2,1.7,1.7,1.7,0.7,1.8,1.7,1.6,1,1.1,1.2,1.2,0.7];
const precipControl: (number | null)[] = [null,0.6,0.9,0.5,0.1,0,0,0,0,0,0,0,0,0,0,0.2,0.4,0.8,0.7,0.1,0,0,0,0,0,0,0,0,0,0,0,0,0,0,0,0.1,3,8.5,4,3.5,1.5,0.6,0.2,0.6,0.6,2,2.4,2,0.6,0.1,0.1,0.2,0.3,0.2,0.1,0.3,0.4,0.5,0.8,0.6,0.4,0.5,1,1.2,0.5];
const precipGfs: (number | null)[] = [null,1.1,1.3,0.6,0.1,0,0,0,0,0,0,0,0,0,0,0.2,0.6,1.3,1.1,0.2,0,0,0,0,0,0,0,0,0,0,0,0,0.2,0.8,1.5,4.9,9.4,6.8,4.3,4.9,5.4,3.5,1.6,2.5,3.7,4.2,5,4.4,4,3.6,3.5,2.5,1.6,0.9,1.1,0.6,0.4,0.6,0.9,0.7,0.5,1.2,1.8,1,0.5];
const precipPerturbations = [
[null,0.6,0.9,0.5,0.1,0,0,0,0,0,0,0,0,0,0,0.5,1.2,1.6,0.8,0,0,0,0,0,0,0,0,0,0,0,0,0,0,0,0.1,0.2,0.2,0.3,0.5,1,1.5,2,0.8,0.3,0.5,1,0.6,0.3,0.8,0.5,1.5,0.8,1.2,0.4,0.2,0.3,0.2,0.5,1,0.6,0.3,1,2,1.2,0.6],
[null,0.6,0.9,0.6,0.1,0,0,0,0,0,0,0,0,0,0,0.3,1,1.2,0.8,0.1,0,0,0.1,0,0,0,0,0,0,0,0,0,0,0,0,0.2,0.5,0.3,2,1,3,1,0.5,0.6,0.3,0.2,0.4,1,0.3,1.5,2.5,3.5,2,5.8,2.5,0.6,0.2,0.5,1,0.6,0.5,2.8,0.6,0.3,0.2],
[null,0.6,0.9,0.6,0.1,0,0,0,0,0,0,0,0,0,0,1.5,1.8,1.5,0.8,0.2,0.1,0.2,0.1,0,0,0,0,0,0,0,0,0,0,0,0.1,0.3,0.2,0.2,0.5,0.8,2.5,1.8,1,0.3,1.2,0.6,1.5,2.2,0.5,0.3,0.6,1.5,2,2.5,1,0.4,0.8,0.5,0.4,1.5,0.8,1.2,2,0.6,0.3],
[null,0.5,0.8,0.5,0.1,0,0,0,0,0,0,0,0,0,0,0.2,0.7,1.2,0.5,0.1,0,0,0,0,0,0,0,0,0,0,0,2.3,2.5,0.9,1,3.5,2.5,1.5,0.7,0.3,0.2,0.5,0.4,1.5,1.2,0.5,0.6,1,0.4,0.3,1.2,2,0.8,2,7.3,12.7,1,3.5,8.4,12,8.8,1.5,0.8,0.5,0.4],
[null,0.6,0.9,0.6,0.2,0.1,0,0,0,0,0,0,0,0,0,0.3,0.5,1,0.7,0.1,0,1.2,1.5,1.6,0.5,0.2,0.1,0,0,0,0,0,0,0,0.2,0.3,0.1,0.5,1,1,1.8,1,0.5,1,0.6,0.3,0.4,0.8,0.5,0.8,2,2.5,8.2,3.5,2.5,5.3,1,5.4,6.3,4.4,5.5,6,2.2,2.2,0.8],
[null,0.6,0.9,0.6,0.1,0,0,0,0,0,0,0,0,0,0,0.2,0.8,1.5,1,0.1,0,0,0,0,0,0,0,0,0,0,0,0,0,0,0,0.1,0.1,0.2,0.5,1,2,5,8.5,1,4.9,2,4,1.5,0.8,0.2,0.6,0.8,0.5,0.8,0.6,0.4,0.3,0.6,0.5,1.2,0.8,0.6,1,0.5,0.3],
[null,0.5,0.9,0.5,0.1,0,0,0,0,0,0,0,0,0,0,0.3,0.6,1.2,0.6,0,0,0,0,0,0,0,0,0,0,0,0,0,0,0,0,0.1,0.2,0.3,0.8,2,1.5,0.6,2.8,1.2,0.5,0.4,0.8,1,0.4,1,4,3,2,1.5,3,5.4,0.6,1.2,1,0.5,0.6,1.8,1,0.5,0.4],
[null,0.6,1,0.6,0.1,0,0,0,0,0,0,0,0,0,0,0.2,0.5,1,2,0.4,0,0,0,0,0,0,0,0,0,0,0,0,0,0,0,0,0.1,0.2,0.3,0.6,1.5,1,2,1.2,0.8,0.5,0.5,0.8,0.3,0.2,0.8,1.5,1.5,1,0.6,0.8,0.4,0.6,0.5,0.6,0.4,0.8,0.6,0.8,0.6],
[null,0.6,0.9,0.6,0.1,0,0,0,0,0,0,0,0,0,0,0.3,0.8,1.4,1,0.2,0,0.1,0,0,0,0,0,0,0,0,0,0,0,0,0.1,0.1,0.2,0.6,1,1.5,5,3,3.5,1,0.7,0.4,1.8,0.6,0.5,0.6,4.2,2,3.5,2.5,4.5,2,1,2.5,1,0.5,2,1.2,0.8,0.6,0.4],
[null,0.6,0.9,0.6,0.1,0,0,0,0,0,0,0,0,0,0,1,2.6,1.4,0.7,0.1,0,0,0,0,0,0,0,0,0,0,0,0,0,0,0,0,0.2,0.5,1.2,2.8,0.7,1.5,1.2,0.4,0.3,1,0.8,0.4,0.3,0.4,1.5,2,3.2,1.5,0.8,0.4,0.2,0.6,0.6,0.5,0.4,0.9,0.6,0.5,0.2],
[null,0.6,0.9,0.6,0.1,0,0,0,0,0,0,0,0,0,0,0.2,0.7,1.2,0.6,0.1,0,0,0,0,0,0,0.3,0.9,0.5,0.4,0.1,0,0,0,0,0,0.6,0.5,0.3,0.8,3,8.8,3,1,1,0.5,0.8,0.5,0.4,0.8,2,1.5,3.5,2.5,3,3.4,0.6,1.2,0.8,0.6,0.8,1,1.5,3.9,3],
[null,0.5,0.9,0.6,0.1,0,0,0,0,0,0,0,0,0,0,0.2,0.6,1,1.2,0.2,0,0,0.2,0.2,0.1,0,0,0,0,0,0,0,0,0,0,0,0.2,0.3,0.6,1.5,1.8,1,0.6,0.6,1,0.4,0.3,0.8,0.5,0.4,1,1.2,1.5,0.8,1.2,1.5,6.6,23.5,0.5,0.8,0.6,0.4,1.5,0.6,0.4],
[null,0.6,0.9,0.5,0.1,0,0,0,0,0,0,0,0,0,0,0.2,0.8,1.5,1,0.1,0,0,0,0,0,0,0,0,0,0,0,0,0,0,0,0,0.1,0.4,0.8,1.2,2.5,7,2.5,2.2,0.8,0.6,0.5,0.4,0.3,0.8,2,1.8,2.8,2,1.5,1,0.8,1.8,0.6,0.5,1,1.8,2.5,1.2,0.8],
[null,0.6,0.9,0.6,0.1,0,0,0,0,0,0,0,0,0,0,0.3,1,1.8,1.2,0.1,0,0,0,0,0,0,0,0,0,0,0,0,0,0,0,0,0.2,0.5,1,8.2,3,1,0.5,0.8,0.5,0.4,0.3,0.6,1,3,2,1.5,5,6.6,1.5,0.6,1,1.5,0.8,0.5,0.7,1,0.8,0.5,0.3],
[null,0.6,0.9,0.6,0.1,0,0,0,0,0,0,0,0,0,0,0.4,1.5,1.8,1,0.2,0,0,0,0,0,0,0,0,0,0,0,0,0,0,0,0.1,0.1,0.2,0.6,1,8,3.5,7.5,1,2.2,0.6,0.8,2,0.5,0.6,3.5,2,1,2.4,0.8,0.5,0.5,7,4.3,1.5,0.6,3,2.2,1,0.4],
[null,0.6,0.9,0.6,0.1,0,0,0,0,0,0,0,0,0,0,0.4,1.3,2.5,0.7,0.1,0,0,0,0,2.3,0.5,0.2,0.1,0,0,0,0,0,0,0.1,0.2,0.4,0.5,0.4,0.8,1.5,2.5,1,0.8,0.6,1,1.5,0.6,9.3,2,0.8,0.6,1.5,0.8,0.5,0.4,1.2,5,0.8,0.6,0.4,2,3,1,0.5],
[null,0.6,1,0.7,0.1,0,0,0,0,0,0,0,0,0,0,0.3,1,1.5,1,0.1,0,0,0,0,0,0,0,0,0,0,0,0,0,0,0,0.1,0.2,0.3,0.4,2,4,2,1,0.5,0.8,0.6,0.4,0.6,0.5,0.4,1.5,1,2,0.8,2,1.2,0.8,0.6,1,0.8,1.5,1.2,2.9,4,3.7],
[null,0.6,1.2,0.7,0.1,0,0,0,0,0,0,0,0,0,0,0.2,0.8,1.4,0.8,0.2,0,0,0,0,0,0,0,0,0,0,0,0,0,0,0,0.1,0.1,0.2,0.5,0.8,9.4,4,1.5,2,9.3,2.5,0.8,0.4,0.5,1,7.3,1.5,1,0.8,0.6,0.5,0.4,0.7,1,0.6,0.4,0.8,1,0.7,0.4],
[null,0.6,0.9,0.5,0.1,0,0,0,0,0,0,0,0,0,0,0.2,0.6,1,0.7,0.1,0,0,0,0,0,0,0,0,0,0,0,0,0.2,1.5,3.5,5,6.1,3.5,2,1,0.8,0.6,0.4,0.6,0.5,0.3,0.4,0.5,0.3,0.2,1,0.6,1.2,0.8,0.5,0.4,0.2,0.4,0.6,0.5,0.4,0.6,0.8,0.5,0.2],
[null,0.7,1.4,0.7,0.1,0,0,0,0,0,0,0,0,0,0,0.3,1,2,1.1,0.2,0,0,0,0,0,0,0,0,0,0,0,0,0,0,0,0,0.1,0.3,0.5,1,5,12.3,1.8,3,1.5,0.7,0.5,0.6,0.8,0.6,1,1.2,1,0.7,1.2,0.6,0.4,0.8,0.8,0.6,0.8,1.5,2.5,1,0.6]
];

const RED_NOTE = "#ff2222";
const NOTE_FONT = 'bold 13px "Liberation Sans", Arial, sans-serif';
const MONO = '"DejaVu Sans Mono", monospace';

const redNotes = [
  { s: 15.95, v: 1038.9, axis: "yP", text: "Globalement anticyclonique," },
  { s: 16.15, v: 1036.6, axis: "yP", text: "petite incursion humide et plus fraiche" },
  { s: 16.15, v: 1034.3, axis: "yP", text: "en liaison d'un talweg à mi période" },
  { s: 47.6, v: 1037, axis: "yP", text: "Très incertain mais une tendance à" },
  { s: 47.85, v: 1034.7, axis: "yP", text: "l'éloignement de l'anticyclone se dessine" },
  { s: 47.95, v: 1032.4, axis: "yP", text: "à confirmer au fil des jours" },
  { s: 8.25, v: 21.3, axis: "yT", text: "De saison sans +" },
  { s: 8.4, v: 19, axis: "yT", text: "nuit fraîche par endroit" },
  { s: 8.35, v: 16.6, axis: "yT", text: "(risque de stratifiage)" },
  { s: 19.55, v: 23.7, axis: "yT", text: "Baisse" },
  { s: 19.75, v: 21.3, axis: "yT", text: "de T°" },
  { s: 31.65, v: 22.6, axis: "yT", text: "Période estival très" },
  { s: 31.65, v: 20.4, axis: "yT", text: "probable, chaleur modérée" },
  { s: 54.15, v: 25.3, axis: "yT", text: "Tendance bien incertaine" },
  { s: 54.25, v: 22.9, axis: "yT", text: "qque scénarios tendent vers une" },
  { s: 54.25, v: 20.7, axis: "yT", text: "fraicheur marquée, arrivée de l'automne ?" },
  { s: 15.55, v: -35.9, axis: "yT", text: "SEC, pas de pluie, ensoleillé" },
  { s: 26.15, v: -41, axis: "yT", text: "Risque d'averses" },
  { s: 49.4, v: -26, axis: "yT", text: "Vers une dégradation ?" },
  { s: 49.45, v: -28.2, axis: "yT", text: "Incertain avec le retrait probable de l'anti" },
  { s: 49.45, v: -30.5, axis: "yT", text: "Orages ? en début de période" },
];
const panelNames = [
  { s: 0.85, v: 1024.1, axis: "yP", text: "Pression" },
  { s: 0.95, v: 11.3, axis: "yT", text: "Temp. 850hPa" },
  { s: 0.95, v: -12.1, axis: "yT", text: "Temp. 500hPa" },
  { s: 0.95, v: -42.3, axis: "yT", text: "Précipitations" },
];
const doubleArrows = [
  { s1: 0.55, v1: 1031.8, s2: 30.25, v2: 1031.8, axis: "yP" },
  { s1: 32.85, v1: 1029.2, s2: 61.65, v2: 1031, axis: "yP" },
  { s1: 0.55, v1: 14.4, s2: 15.05, v2: 14.4, axis: "yT" },
  { s1: 24.75, v1: 17.4, s2: 37.65, v2: 17.6, axis: "yT" },
  { s1: 40.1, v1: 18, s2: 63.25, v2: 18.3, axis: "yT" },
  { s1: 0.25, v1: -38.5, s2: 32.75, v2: -38.3, axis: "yT" },
  { s1: 34.7, v1: -31.7, s2: 63.6, v2: -32.3, axis: "yT" },
];
const singleArrows = [
  { s1: 19.4, v1: 20, s2: 19.4, v2: 12, axis: "yT" },
  { s1: 20.45, v1: -41.1, s2: 18.4, v2: -42.1, axis: "yT" },
];
const strokes = [
  { s1: 31.3, v1: 1031.3, s2: 31.65, v2: 999.4, axis: "yP" },
  { s1: 16.05, v1: 20, s2: 16, v2: -3.1, axis: "yT" },
  { s1: 22.95, v1: 19.3, s2: 22.8, v2: -2.6, axis: "yT" },
  { s1: 38.6, v1: 19.6, s2: 38.5, v2: -2.2, axis: "yT" },
  { s1: 33.7, v1: -33.6, s2: 33.75, v2: -52.7, axis: "yT" },
];

const toPoints = (values: (number | null)[]) => values.map((y, x) => ({ x, y }));

function panelDatasets(name: string, axis: string, mean: (number | null)[], control: (number | null)[], gfs: (number | null)[], perts: (number | null)[][]) {
  const main = [
    { label: name + " moyenne", data: toPoints(mean), yAxisID: axis, borderColor: "#ff0000", borderWidth: 4, pointRadius: 0, order: 0 },
    { label: name + " contrôle", data: toPoints(control), yAxisID: axis, borderColor: "#0000ff", borderWidth: 3, pointRadius: 0, order: 1 },
    { label: name + " GFS", data: toPoints(gfs), yAxisID: axis, borderColor: "#000000", borderWidth: 3, pointRadius: 0, order: 2 },
  ];
  const members = perts.map((row, i) => ({
    label: name + " " + perturbationNames[i],
    data: toPoints(row),
    yAxisID: axis,
    borderColor: perturbationColors[i],
    backgroundColor: perturbationColors[i],
    borderWidth: 1.2,
    pointRadius: 1.4,
    pointBorderWidth: 0,
    order: 3,
  }));
  return [...main, ...members];
}

const overlay = {
  id: "overlay",
  afterDraw(chart: any) {
    const { ctx, scales } = chart;
    const X = (s: number) => scales.x.getPixelForValue(s);
    const Y = (a: string, v: number) => scales[a].getPixelForValue(v);
    ctx.save();

    ctx.fillStyle = "#000";
    ctx.fillRect(0, scales.yP.bottom + 1, chart.width, 3);

    ctx.strokeStyle = "#000";
    ctx.lineCap = "butt";
    ctx.lineWidth = 3;
    for (const l of strokes) {
      ctx.beginPath();
      ctx.moveTo(X(l.s1), Y(l.axis, l.v1));
      ctx.lineTo(X(l.s2), Y(l.axis, l.v2));
      ctx.stroke();
    }
    const head = (x1: number, y1: number, x2: number, y2: number, len: number, half: number) => {
      const a = Math.atan2(y2 - y1, x2 - x1);
      ctx.beginPath();
      ctx.moveTo(x2, y2);
      ctx.lineTo(x2 - len * Math.cos(a) + half * Math.sin(a), y2 - len * Math.sin(a) - half * Math.cos(a));
      ctx.lineTo(x2 - len * Math.cos(a) - half * Math.sin(a), y2 - len * Math.sin(a) + half * Math.cos(a));
      ctx.closePath();
      ctx.fill();
    };
    for (const l of doubleArrows) {
      const [x1, y1, x2, y2] = [X(l.s1), Y(l.axis, l.v1), X(l.s2), Y(l.axis, l.v2)];
      ctx.lineWidth = 3;
      ctx.beginPath();
      ctx.moveTo(x1 + 6, y1);
      ctx.lineTo(x2 - 6, y2);
      ctx.stroke();
      head(x2, y2, x1, y1, 11, 5.5);
      head(x1, y1, x2, y2, 11, 5.5);
    }
    for (const l of singleArrows) {
      const [x1, y1, x2, y2] = [X(l.s1), Y(l.axis, l.v1), X(l.s2), Y(l.axis, l.v2)];
      ctx.lineWidth = 3;
      ctx.beginPath();
      ctx.moveTo(x1, y1);
      ctx.lineTo(x2 - (x2 - x1) * 0.2, y2 - (y2 - y1) * 0.2);
      ctx.stroke();
      head(x1, y1, x2, y2, 11, 5.5);
    }

    ctx.fillStyle = RED_NOTE;
    ctx.font = NOTE_FONT;
    (ctx as any).letterSpacing = "0.2px";
    ctx.textAlign = "center";
    ctx.textBaseline = "middle";
    for (const n of redNotes) ctx.fillText(n.text, X(n.s), Y(n.axis, n.v));
    (ctx as any).letterSpacing = "0px";

    ctx.fillStyle = "#000";
    ctx.font = "10px " + MONO;
    ctx.textAlign = "left";
    for (const n of panelNames) ctx.fillText(n.text, X(n.s), Y(n.axis, n.v));

    const unitY = scales.x.top + 7;
    ctx.fillText("(°c)", 20, unitY);
    ctx.fillText("(mm)", 710, unitY);

    const legendY = scales.x.top;
    ctx.fillStyle = "#ff0000";
    ctx.fillRect(35, legendY + 30, 31, 4);
    ctx.fillStyle = "#0000ff";
    ctx.fillRect(225, legendY + 35, 31, 4);
    ctx.fillStyle = "#000000";
    ctx.fillRect(225, legendY + 45, 31, 4);
    ctx.fillText("Moyenne des scénarios", 75, legendY + 37);
    ctx.fillText("Run de contrôle", 265, legendY + 37);
    ctx.fillText("Run GFS", 265, legendY + 47);
    ctx.fillText("Risque neige (par rapport a tous les scénarios)", 75, legendY + 59);
    ctx.fillText("20 Perturbations", 370, legendY + 52);
    ctx.fillStyle = "#4fa8dc";
    ctx.font = '13px "DejaVu Sans", sans-serif';
    ctx.textAlign = "center";
    ctx.fillText("\u2744", 60.5, legendY + 58);
    ctx.textAlign = "left";
    ctx.font = "bold 8px " + MONO;
    perturbationNames.forEach((name, i) => {
      const sx = 470 + i * 11;
      ctx.fillStyle = perturbationColors[i];
      ctx.fillRect(sx, legendY + 50, 11, 6);
      ctx.fillStyle = "#000";
      ctx.fillText(name, sx + 0.5, legendY + 44);
    });

    ctx.strokeStyle = "#000";
    ctx.lineWidth = 1;
    ctx.strokeRect(20.5, legendY + 67.5, 420, 31);
    ctx.fillStyle = "#000";
    ctx.font = "bold 11.6px " + MONO;
    ctx.fillText("Diagramme des ensembles GEFS sur 384h : 48.8N 7.5E", 30, legendY + 77);
    ctx.fillText("Copyright 2013 Meteociel.fr", 449, legendY + 92);
    ctx.font = "10px " + MONO;
    ctx.fillText("Températures 850hPa et 500hPa (°C) , précipitations (mm)", 30, legendY + 92);
    ctx.fillText("Ensemble GEFS du 28/08/2013 - 00h", 449, legendY + 72);
    ctx.restore();
  },
};

function yAxis(position: string, stack: string, weight: number, stackWeight: number, min: number, max: number, ticks: number[], width: number, isLeft: boolean, grid: boolean) {
  return {
    type: "linear",
    position,
    stack,
    stackWeight,
    weight,
    min,
    max,
    afterBuildTicks: (scale: any) => {
      scale.ticks = ticks.map((value) => ({ value }));
    },
    afterFit: (scale: any) => {
      scale.width = width;
      scale.paddingTop = 0;
      scale.paddingBottom = 0;
    },
    border: { display: false },
    grid: grid
      ? {
          drawTicks: false,
          color: (c: any) => (c.tick && c.tick.value === 0 ? "#8a8a8a" : "#b9b9b9"),
          lineWidth: (c: any) => {
            if (!c.tick) return 1;
            if (c.tick.value === 0) return 3;
            return max < 100 && c.tick.value % 10 === 0 ? 2 : 1;
          },
        }
      : { display: false, drawTicks: false },
    ticks: {
      color: "#000",
      font: { family: "DejaVu Sans Mono", size: 10 },
      padding: isLeft ? 0 : 19,
      crossAlign: isLeft ? "far" : "near",
      labelOffset: 2,
      autoSkip: false,
      callback: (v: any) => String(v),
    },
  };
}

export default function App() {
  const ref = useRef<HTMLCanvasElement>(null);
  useEffect(() => {
    document.body.style.background = "#f9f9f9";
    const precipTop = {
      label: "Précipitations 12 (haut)",
      data: toPoints(precipPerturbations[11]),
      yAxisID: "yPR",
      borderColor: perturbationColors[11],
      backgroundColor: perturbationColors[11],
      borderWidth: 1.2,
      pointRadius: 1.4,
      pointBorderWidth: 0,
      order: 3,
    };
    const datasets = [
      ...panelDatasets("Pression", "yP", pressureMean, pressureControl, pressureGfs, pressurePerturbations),
      ...panelDatasets("Temp. 850hPa", "yT", t850Mean, t850Control, t850Gfs, t850Perturbations),
      ...panelDatasets("Temp. 500hPa", "yT", t500Mean, t500Control, t500Gfs, t500Perturbations),
      ...panelDatasets("Précipitations", "yTR", precipMean, precipControl, precipGfs, precipPerturbations),
      precipTop,
    ].map((d) => ({ ...d, tension: 0, spanGaps: false }));
    const chart = new Chart(ref.current as HTMLCanvasElement, {
      type: "line",
      data: { datasets },
      plugins: [overlay],
      options: {
        animation: false,
        responsive: false,
        devicePixelRatio: 1,
        layout: { padding: { left: 20, right: 0, top: 0, bottom: 0 } },
        plugins: { legend: { display: false }, title: { display: false }, tooltip: { enabled: false } },
        scales: {
          x: {
            type: "linear",
            min: 0,
            max: 64,
            position: "bottom",
            afterFit: (scale: any) => {
              scale.height = 100;
              scale.paddingLeft = 0;
              scale.paddingRight = 0;
            },
            grid: { color: "#b9b9b9", lineWidth: 1, drawTicks: false },
            border: { color: "#000", width: 1 },
            ticks: {
              stepSize: 4,
              minRotation: 90,
              maxRotation: 90,
              autoSkip: false,
              includeBounds: false,
              padding: 2,
              color: "#000",
              labelOffset: 7,
              font: { family: "DejaVu Sans Mono", size: 10 },
              callback: (v: any) => dateLabels[v / 4] ?? "",
            },
          },
          yP: yAxis("left", "left", 2, 426, 992.14, 1053, pressureTicks, 30.5, true, true),
          yT: yAxis("left", "left", 1, 599, -52.714, 32.857, tempTicks, 30.5, true, true),
          yPR: yAxis("right", "right", 1, 426, 17.14, 78, pressureRightTicks, 49.5, false, false),
          yTR: yAxis("right", "right", 2, 599, -7.714, 77.857, tempRightTicks, 49.5, false, false),
        },
      } as any,
    });
    return () => chart.destroy();
  }, []);
  return (
    <div style={{ position: "absolute", left: 0, top: 0, width: 740, height: 1125 }}>
      <canvas ref={ref} width={740} height={1125} style={{ display: "block", background: "#f9f9f9" }} />
    </div>
  );
}
